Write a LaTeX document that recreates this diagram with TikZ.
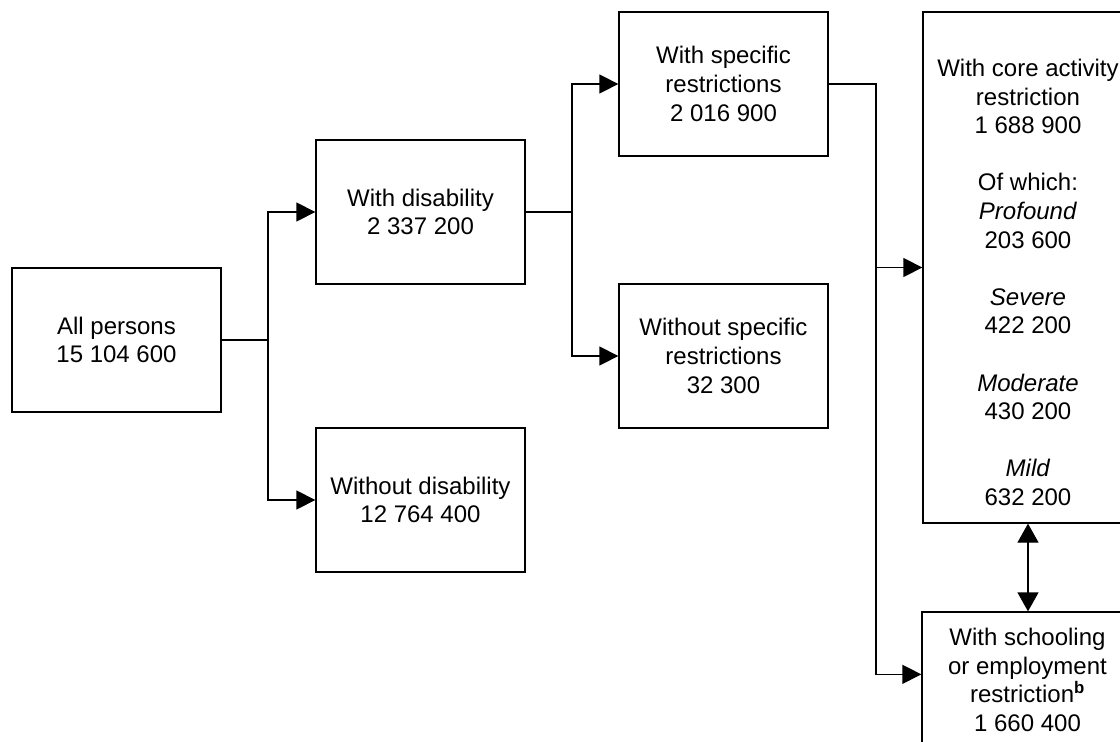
\documentclass[tikz,border=0pt]{standalone}
\usepackage{fontspec}
\setmainfont{Liberation Sans}
\usetikzlibrary{calc,arrows.meta}
\tikzset{
    boite/.style={draw,line width=1.3pt,minimum width=209pt,minimum height=144pt,inner sep=0pt,align=center},
    trait/.style={line width=1.3pt},
    fleche/.style={trait,-{Triangle[length=19pt,width=19pt]}},
    dfleche/.style={trait,{Triangle[length=19pt,width=21pt]}-{Triangle[length=19pt,width=21pt]}},
  }

\begin{document}
\begin{tikzpicture}[x=1pt,y=-1pt,font=\fontsize{24}{28.6}\selectfont]
	\clip (0,0) rectangle (1120,742);
	%colonne 1
	\node[boite] (tous) at (116.5,340) {All persons\\15 104 600};
	%colonne 2
	\node[boite] (dis) at (420.5,212) {With disability\\2 337 200};
	\node[boite] (nodis) at (420.5,500) {Without disability\\12 764 400};
	%colonne 3
	\node[boite] (spec) at (723.5,84) {With specific\\restrictions\\2 016 900};
	\node[boite] (nospec) at (723.5,356) {Without specific\\restrictions\\32 300};
	%colonne 4 (coupee a droite)
	\node[boite,minimum width=210pt,minimum height=511pt] (core) at (1028,267.5) {};
	\node[align=center] (coretxt) at ($(core.center)+(0,15)$) {With core activity\\restriction\\1 688 900\\[28.6pt]
		Of which:\\\textit{Profound}\\203 600\\[28.6pt]
		\textit{Severe}\\422 200\\[28.6pt]
		\textit{Moderate}\\430 200\\[28.6pt]
		\textit{Mild}\\632 200};
	\node[boite,minimum width=211pt,minimum height=136pt] (ecole) at (1027.5,680) {With schooling\\or employment\\restriction\textsuperscript{\textbf{b}}\\1 660 400};
	
	%liaisons
	\coordinate (j1) at (268,340);
	\draw[trait] (tous.east) -- (j1);
	\draw[fleche] (j1) |- (dis.west);
	\draw[fleche] (j1) |- (nodis.west);
	
	\coordinate (j2) at (572,212);
	\draw[trait] (dis.east) -- (j2);
	\draw[fleche] (j2) |- (spec.west);
	\draw[fleche] (j2) |- (nospec.west);
	
	\coordinate (j3) at (876,84);
	\coordinate (e) at ($(ecole.north west)+(0,63)$);
	\draw[fleche] (spec.east) -| (j3 |- e) -- (e);
	\draw[fleche] (j3 |- core.west) -- (core.west);
	\draw[dfleche] (core.south) -- (core.south |- ecole.north);
\end{tikzpicture}
\end{document}
